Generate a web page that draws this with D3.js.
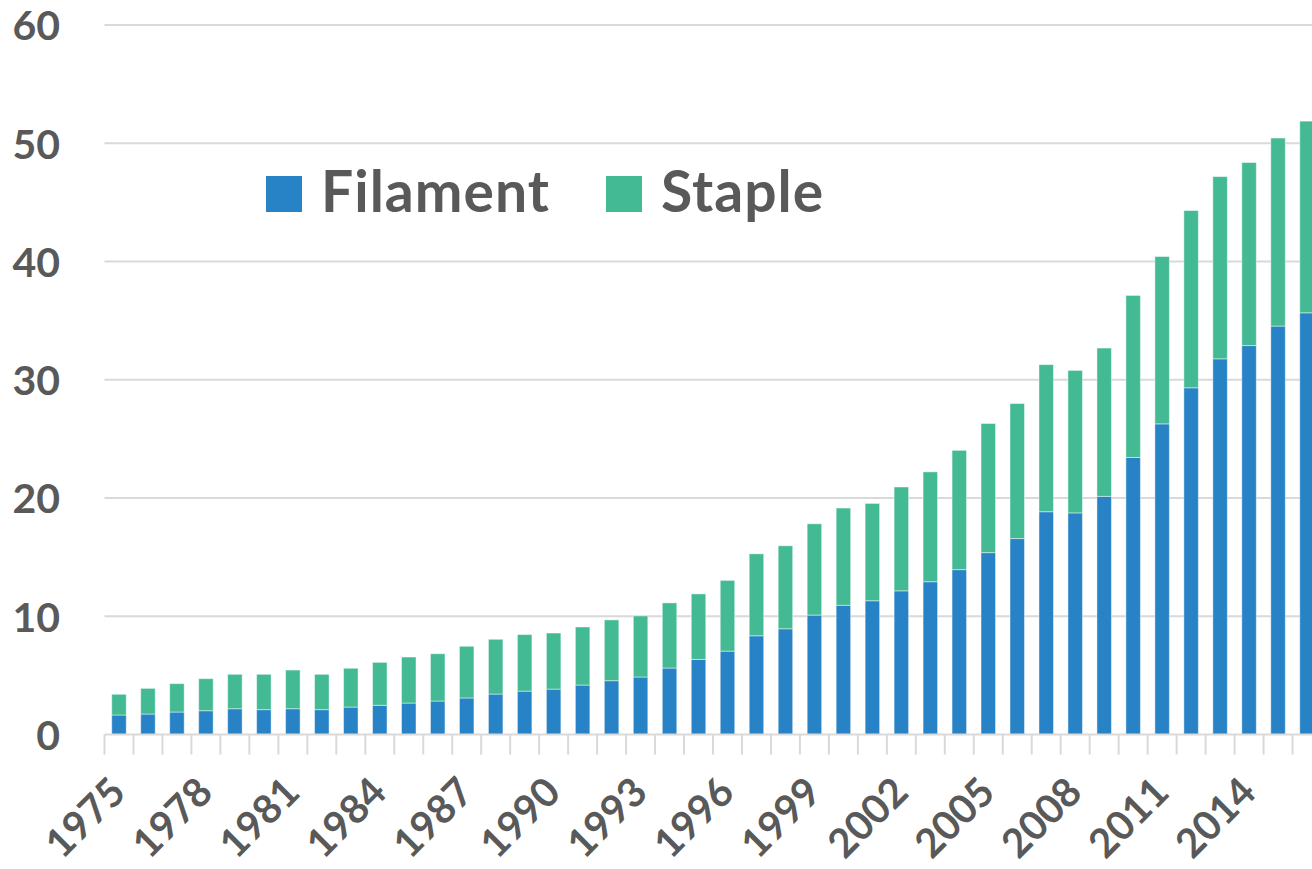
<!DOCTYPE html>
<html>
<head>
<meta charset="utf-8">
<script src="https://cdn.jsdelivr.net/npm/d3@7"></script>
<style>
  body { margin: 0; background: #fff; }
  svg { display: block; font-family: Lato, "Open Sans", sans-serif; font-weight: bold; }
</style>
</head>
<body>
<div id="chart"></div>
<script>
// years on the x axis
var years = d3.range(1975, 2017);

// filament part of each bar
var filament = [1.65, 1.73, 1.90, 2.01, 2.18, 2.10, 2.18, 2.10, 2.32, 2.47,
                2.66, 2.83, 3.09, 3.42, 3.67, 3.84, 4.18, 4.55, 4.86, 5.62,
                6.35, 7.05, 8.35, 8.94, 10.1, 10.93, 11.31, 12.15, 12.92, 13.94,
                15.38, 16.57, 18.84, 18.74, 20.14, 23.43, 26.27, 29.32, 31.77, 32.89,
                34.54, 35.66];

// total height of each bar (filament + staple)
var total = [3.40, 3.90, 4.30, 4.72, 5.09, 5.09, 5.45, 5.09, 5.60, 6.10,
             6.55, 6.83, 7.46, 8.05, 8.45, 8.58, 9.09, 9.69, 10.03, 11.13,
             11.89, 13.03, 15.28, 15.96, 17.82, 19.15, 19.54, 20.93, 22.21, 24.03,
             26.30, 27.99, 31.28, 30.79, 32.68, 37.13, 40.42, 44.31, 47.18, 48.37,
             50.44, 51.87];

var staple = total.map((t, i) => +(t - filament[i]).toFixed(2));

var yTicks = [0, 10, 20, 30, 40, 50, 60];
var labelYears = d3.range(1975, 2017, 3);

var seriesNames = ["Filament", "Staple"];
var colors = {Filament: "#2782c6", Staple: "#43ba94"};

var width = 1312, height = 869;
var margin = {top: 25, left: 104.5, bottom: 134.5};
var plotRight = 1321.5; // last bar runs past the picture edge

var svg = d3.select("#chart").append("svg")
    .attr("width", width)
    .attr("height", height);

var x = d3.scaleBand()
    .domain(years)
    .range([margin.left, plotRight])
    .paddingInner(0.5)
    .paddingOuter(0.25);

var y = d3.scaleLinear()
    .domain([0, 60])
    .range([height - margin.bottom, margin.top]);

// gridlines
svg.append("g")
    .selectAll("line")
    .data(yTicks.slice(1))
    .enter().append("line")
    .attr("x1", margin.left)
    .attr("x2", width)
    .attr("y1", d => y(d))
    .attr("y2", d => y(d))
    .style("stroke", "#d9d9d9")
    .style("stroke-width", 2);

// y axis labels
var yAxis = d3.axisLeft(y).tickValues(yTicks).tickSize(0).tickPadding(0);
var gy = svg.append("g")
    .attr("transform", "translate(60,0)")
    .call(yAxis);
gy.select(".domain").remove();
gy.selectAll("text")
    .attr("dy", "0.36em")
    .style("font-size", "41px")
    .style("font-family", "Lato, sans-serif")
    .style("font-weight", "bold")
    .style("fill", "#595959");

// stacked bars
var rows = years.map((yr, i) => ({year: yr, Filament: filament[i], Staple: staple[i]}));
var stacked = d3.stack().keys(seriesNames)(rows);

svg.append("g")
    .selectAll("g")
    .data(stacked)
    .enter().append("g")
    .style("fill", d => colors[d.key])
    .selectAll("rect")
    .data(d => d)
    .enter().append("rect")
    .attr("x", d => x(d.data.year))
    .attr("width", x.bandwidth())
    .attr("y", d => y(d[1]))
    .attr("height", d => y(d[0]) - y(d[1]))
    .style("stroke", "rgba(255,255,255,0.45)")
    .style("stroke-width", 1);

// x axis line and boundary ticks
var base = y(0);
svg.append("line")
    .attr("x1", margin.left)
    .attr("x2", width)
    .attr("y1", base)
    .attr("y2", base)
    .style("stroke", "#d9d9d9")
    .style("stroke-width", 2);

var gap = (x.step() - x.bandwidth()) / 2;
svg.append("g")
    .selectAll("line")
    .data(years)
    .enter().append("line")
    .attr("x1", d => x(d) - gap)
    .attr("x2", d => x(d) - gap)
    .attr("y1", base)
    .attr("y2", base + 20)
    .style("stroke", "#d9d9d9")
    .style("stroke-width", 2);

// rotated year labels
var xAxis = d3.axisBottom(x).tickValues(labelYears).tickSize(0).tickPadding(0);
var gx = svg.append("g")
    .attr("transform", "translate(0," + base + ")")
    .call(xAxis);
gx.select(".domain").remove();
gx.selectAll("text")
    .attr("y", 0)
    .attr("dy", 0)
    .attr("transform", "translate(9,60) rotate(-45)")
    .style("text-anchor", "end")
    .style("font-size", "40px")
    .style("font-family", "Lato, sans-serif")
    .style("font-weight", "bold")
    .style("fill", "#595959");

// legend
var legendX = [266, 606];
var legend = svg.append("g")
    .selectAll("g")
    .data(seriesNames)
    .enter().append("g")
    .attr("transform", (d, i) => "translate(" + legendX[i] + ",176)");

legend.append("rect")
    .attr("width", 36)
    .attr("height", 36)
    .style("fill", d => colors[d]);

legend.append("text")
    .attr("x", 55)
    .attr("y", 36)
    .style("font-size", "57px")
    .style("letter-spacing", "1px")
    .style("fill", "#595959")
    .text(d => d);
</script>
</body>
</html>
